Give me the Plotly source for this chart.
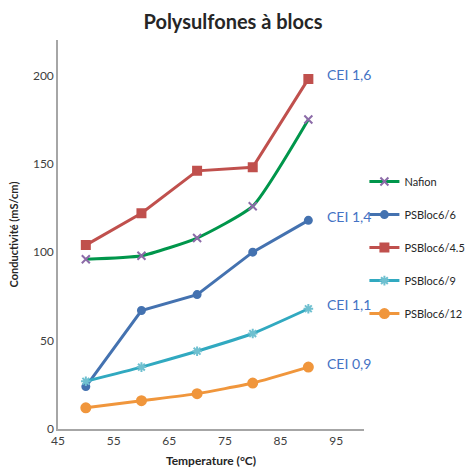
import plotly.graph_objects as go

temperature = [50, 60, 70, 80, 90]
nafion = [96, 98, 108, 126, 175]
psbloc6_6 = [24, 67, 76, 100, 118]
psbloc6_4_5 = [104, 122, 146, 148, 198]
psbloc6_9 = [27, 35, 44, 54, 68]
psbloc6_12 = [12, 16, 20, 26, 35]

cei_labels = ["CEI 1,6", "CEI 1,4", "CEI 1,1", "CEI 0,9"]
cei_values = [198, 118, 68, 35]

x_ticks = [45, 55, 65, 75, 85, 95]
y_ticks = [0, 50, 100, 150, 200]

series = [
    dict(name="Nafion", y=nafion, line="#00964B", marker="#8C6BA8",
         symbol="x-thin", size=8, shape="spline"),
    dict(name="PSBloc6/6", y=psbloc6_6, line="#4472B0", marker="#4472B0",
         symbol="circle", size=7, shape="linear"),
    dict(name="PSBloc6/4.5", y=psbloc6_4_5, line="#C0504D", marker="#C0504D",
         symbol="square", size=8, shape="linear"),
    dict(name="PSBloc6/9", y=psbloc6_9, line="#31A9C0", marker="#6FC0D0",
         symbol="asterisk-open", size=8, shape="spline"),
    dict(name="PSBloc6/12", y=psbloc6_12, line="#F0963C", marker="#F0963C",
         symbol="circle", size=9, shape="spline"),
]

fig = go.Figure()
for s in series:
    fig.add_trace(go.Scatter(
        x=temperature, y=s["y"], name=s["name"], mode="lines+markers",
        legendgroup=s["name"],
        line=dict(color=s["line"], width=3, shape=s["shape"], smoothing=0.5),
        marker=dict(color=s["marker"], symbol=s["symbol"], size=s["size"],
                    line=dict(color=s["marker"], width=2)),
    ))

for label, val in zip(cei_labels, cei_values):
    fig.add_annotation(x=93, y=val, text=label, showarrow=False,
                       xanchor="left", yanchor="middle", yshift=4,
                       font=dict(family="Lato", color="#4472C4", size=14))

fig.update_layout(
    width=466, height=468,
    margin=dict(l=58, r=102, t=40, b=39, autoexpand=False),
    paper_bgcolor="white", plot_bgcolor="white",
    font=dict(family="Lato, Noto Sans, sans-serif", color="#404040", size=12),
    title=dict(text="<b>Polysulfones à blocs</b>", x=0.5, xanchor="center",
               y=0.953, yanchor="middle",
               font=dict(size=20, color="#262626")),
    legend=dict(xref="container", yref="container", x=0.782, y=0.643,
                xanchor="left", yanchor="top",
                tracegroupgap=14, font=dict(size=11, color="#262626"),
                itemwidth=30),
    xaxis=dict(range=[45, 100], tickmode="array", tickvals=x_ticks,
               showline=True, linecolor="#A6A6A6", linewidth=1.5,
               showgrid=False, zeroline=False, ticks="", tickfont=dict(size=12),
               automargin=False,
               title=dict(text="<b>Temperature (°C)</b>",
                          font=dict(size=12, color="#262626"), standoff=9)),
    yaxis=dict(range=[0, 220], tickmode="array", tickvals=y_ticks,
               showline=True, linecolor="#A6A6A6", linewidth=1.5,
               showgrid=False, zeroline=False, ticks="", tickfont=dict(size=12),
               automargin=False,
               title=dict(text="<b>Conductivité (mS/cm)</b>",
                          font=dict(size=11, color="#262626"), standoff=12)),
)

fig.write_html("out.html")
